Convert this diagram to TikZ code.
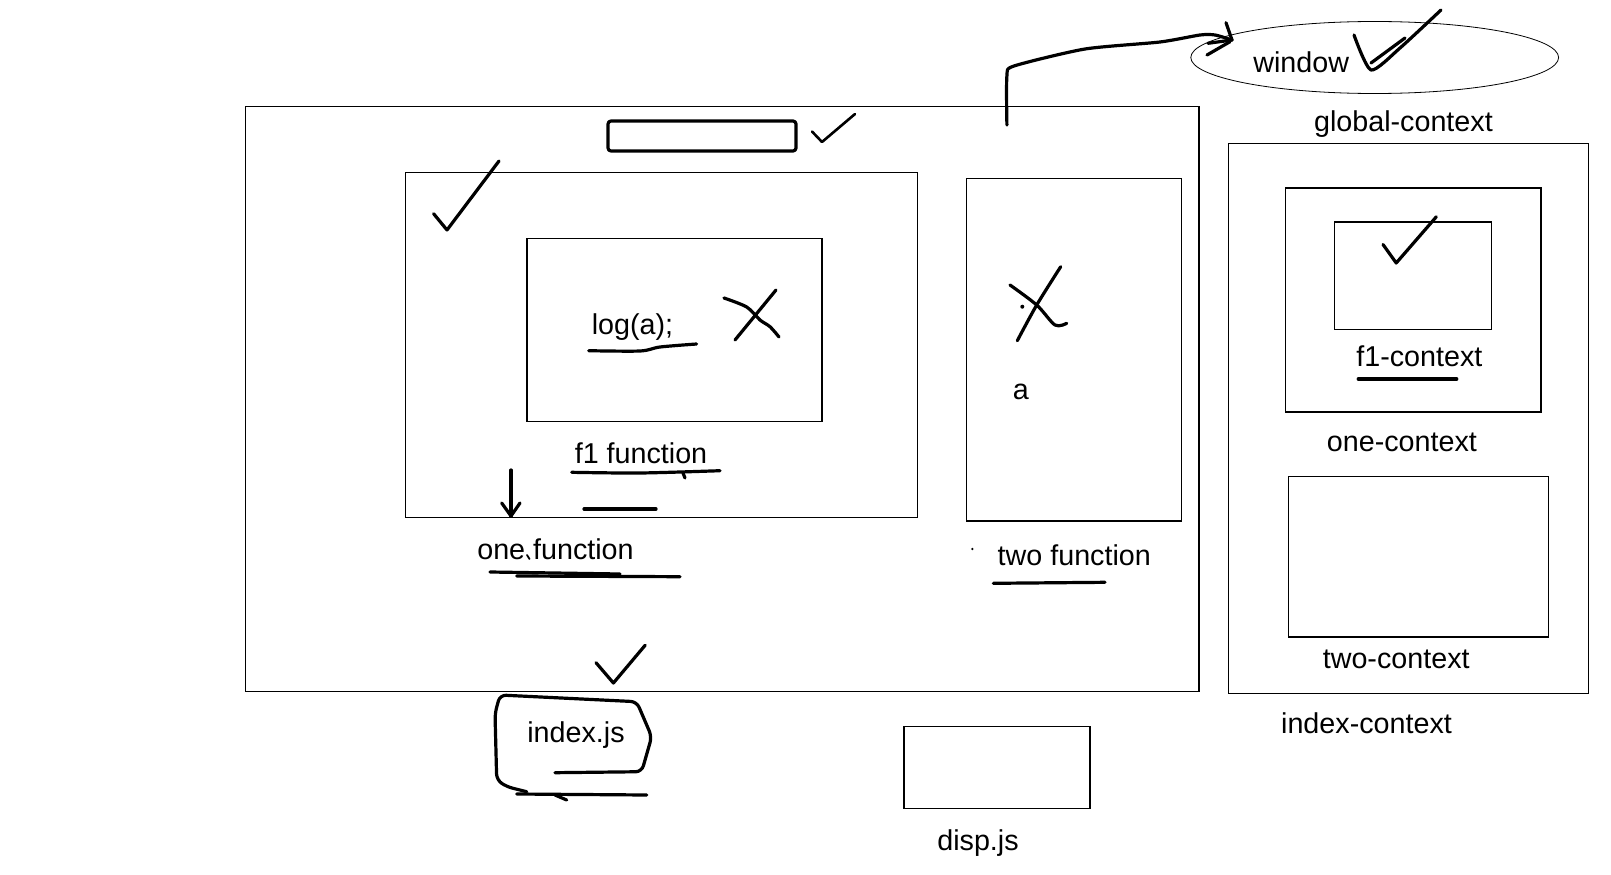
\documentclass[tikz,border=0pt]{standalone}
\usepackage{fontspec}
\setmainfont{Liberation Sans}
\usetikzlibrary{shapes.geometric}
\begin{document}
\begin{tikzpicture}[x=1pt,y=-1pt,
  box/.style={draw, line width=1.2pt},
  pen/.style={line width=3.2pt, line cap=round, line join=round},
  thinpen/.style={line width=2.6pt, line cap=round, line join=round},
  lbl/.style={inner sep=0pt, anchor=base, font=\fontsize{28.7}{34}\selectfont}]
\useasboundingbox (0,0) rectangle (1611,875);
\fill[white] (0,0) rectangle (1611,875);

% boxes
\draw[box] (245.5,106.8) rectangle (1199,691.4);
\draw[box] (405.8,172.6) rectangle (917.5,517.8);
\draw[box] (527,238.4) rectangle (822,421.2);
\draw[box] (966.8,178.8) rectangle (1181.5,521);
\draw[box] (1228.8,143.8) rectangle (1588.4,693.5);
\draw[box] (1285.3,188) rectangle (1541,412);
\draw[box] (1334.6,222) rectangle (1491.8,329.8);
\draw[box] (1288.4,476.7) rectangle (1548.3,637);
\draw[box] (904,726.4) rectangle (1090,808.6);
\node[ellipse, draw, line width=0.8pt, minimum width=367.8pt, minimum height=72pt, inner sep=0pt] (winell) at (1374.7,57.5) {};

% labels
\node[lbl] (window) at (1301.2,72) {window};
\node[lbl] (global) at (1403.4,131.5) {global-context};
\node[lbl] (loga) at (632.5,334.5) {log(a);};
\node[lbl] (f1fn) at (641,463.5) {f1 function};
\node[lbl] (onefn) at (555.5,559.5) {one function};
\node[lbl] (twofn) at (1074.3,565) {two function};
\node[lbl] (avar) at (1020.8,399.3) {a};
\node[lbl] (indexjs) at (576,742.5) {index.js};
\node[lbl] (f1ctx) at (1419.4,366.8) {f1-context};
\node[lbl] (onectx) at (1401.9,451) {one-context};
\node[lbl] (twoctx) at (1396.2,668.8) {two-context};
\node[lbl] (indexctx) at (1366.5,733.6) {index-context};
\node[lbl] (dispjs) at (978,850.7) {disp.js};

% hand-drawn marks
\draw[pen, rounded corners=3pt] (608,121) rectangle (796,151);
\draw[thinpen] (812,131.5) -- (822,142) -- (855,114);
\draw[pen] (433.6,213.7) -- (447,230) -- (499,161);
\draw[pen] plot[smooth, tension=0.5] coordinates {(724,298) (746.7,307) (760,320) (770,326.7) (779,337)};
\draw[pen] (735,340) -- (776,290);
\draw[pen] plot[smooth, tension=0.5] coordinates {(588.7,350.7) (640,351) (660,347) (696.6,344)};
\draw[pen] plot[smooth, tension=0.5] coordinates {(571.7,472.3) (640,473) (720,470.7)};
\draw[pen] (683,473) -- (685,478);
\draw[pen] (584,509) -- (656,509);
\draw[pen] (511,470) -- (511,516);
\draw[pen] (501.7,503) -- (511,516) -- (520,503);
\draw[line width=1.8pt, line cap=round] (527,555) -- (529.5,559);
\draw[pen] (490,572) -- (620,574);
\draw[pen] (516.7,576) -- (680,576.7);
\draw[pen] plot[smooth, tension=0.5] coordinates {(1010,285) (1036.7,305) (1055,325) (1066.7,323.3)};
\draw[pen] plot[smooth, tension=0.5] coordinates {(1017.3,340.7) (1036.7,305) (1060.7,266.7)};
\fill (1022.3,306.7) circle (2pt);
\fill (972.3,549) circle (1.3pt);
\draw[pen] (993.3,583.3) -- (1105,582.3);

% arrow to window
\coordinate (arrstart) at (1006.9,125);
\coordinate (arrtip) at (1232,40);
\draw[pen] plot[smooth, tension=0.4] coordinates {(arrstart) (1006.9,76) (1014,66) (1085,49) (1160,42) (1200,35) (1215,35) (arrtip)};
\draw[pen] (1226,22.7) -- (arrtip);
\draw[pen] (1208,43.3) -- (arrtip);
\draw[pen] (1207,55) -- (1230,41.7);

% window check
\draw[pen] plot[smooth, tension=0.4] coordinates {(1354,35) (1371,70) (1400,48) (1441,10)};
\draw[pen] (1371,63) -- (1405,38);

% f1-context check and underline
\draw[pen] (1383,244.5) -- (1396.2,263) -- (1436.3,216.8);
\draw[pen] (1358.2,379) -- (1456.8,379);

% index.js check and outline
\draw[pen] (596,662.7) -- (613.4,683) -- (645.2,645.2);
\draw[pen, rounded corners=6pt] (526.7,791.7) -- (506.7,786.7) -- (496.7,780) -- (495,713.3) -- (500,695) -- (636.7,701.7) -- (651.7,736.7) -- (641.7,771.7) -- (555,772.7);
\draw[pen] (516.7,794) -- (646.7,795);
\draw[pen] (555,795) -- (566.7,800);
\end{tikzpicture}
\end{document}
